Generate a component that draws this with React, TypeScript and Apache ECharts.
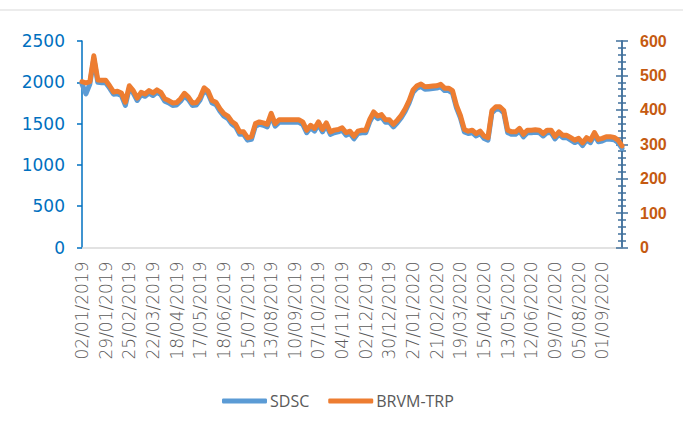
import { useEffect, useRef } from "react";
import * as echarts from "echarts";

// Date labels shown on the category axis (every 19 trading days)
const tickLabels = [
  "02/01/2019", "29/01/2019", "25/02/2019", "22/03/2019", "18/04/2019", "17/05/2019",
  "18/06/2019", "15/07/2019", "13/08/2019", "10/09/2019", "07/10/2019", "04/11/2019",
  "02/12/2019", "30/12/2019", "27/01/2020", "21/02/2020", "19/03/2020", "15/04/2020",
  "13/05/2020", "12/06/2020", "09/07/2020", "05/08/2020", "01/09/2020",
];
// number of sampled points per label interval
const STEP = 6;

// BRVM-TRP (right axis)
const brvmTrp = [
  482, 478, 482, 557, 487, 486, 486, 470, 452, 454, 449, 422, 470, 456, 434, 451, 446, 456, 449, 458,
  451, 432, 427, 420, 421, 432, 448, 437, 420, 421, 437, 464, 454, 427, 422, 403, 389, 382, 366, 358,
  336, 336, 319, 322, 360, 365, 362, 358, 390, 360, 371, 371, 371, 371, 371, 371, 365, 341, 355, 346,
  365, 343, 362, 336, 341, 343, 348, 334, 338, 323, 338, 341, 341, 372, 394, 382, 386, 371, 371, 358,
  370, 384, 403, 427, 458, 470, 475, 467, 468, 469, 470, 474, 463, 463, 456, 413, 384, 343, 338, 341,
  331, 338, 324, 319, 398, 409, 409, 398, 341, 336, 336, 346, 329, 341, 341, 342, 341, 331, 341, 341,
  323, 336, 326, 326, 319, 312, 317, 304, 319, 312, 334, 314, 317, 322, 322, 320, 312, 295,
];

// SDSC (left axis)
const sdsc = [
  1980, 1860, 1980, 2290, 2000, 1995, 1995, 1930, 1855, 1860, 1840, 1720, 1930, 1870, 1780, 1850, 1830, 1870, 1840, 1880,
  1850, 1770, 1750, 1720, 1725, 1770, 1836, 1790, 1720, 1725, 1790, 1905, 1860, 1750, 1730, 1650, 1590, 1560, 1495, 1460,
  1370, 1370, 1300, 1310, 1470, 1490, 1480, 1460, 1595, 1470, 1515, 1515, 1515, 1515, 1515, 1515, 1490, 1390, 1450, 1410,
  1490, 1400, 1480, 1370, 1390, 1400, 1420, 1360, 1380, 1315, 1380, 1390, 1390, 1520, 1610, 1560, 1580, 1515, 1515, 1460,
  1510, 1570, 1650, 1750, 1880, 1930, 1950, 1915, 1920, 1925, 1930, 1945, 1900, 1900, 1870, 1690, 1570, 1400, 1380, 1390,
  1350, 1380, 1320, 1300, 1630, 1675, 1675, 1630, 1390, 1370, 1370, 1410, 1340, 1390, 1390, 1395, 1390, 1350, 1390, 1390,
  1315, 1370, 1330, 1330, 1300, 1270, 1290, 1235, 1300, 1270, 1360, 1280, 1290, 1310, 1310, 1305, 1270, 1200,
];

const categories = brvmTrp.map((_, i) => (i % STEP === 0 ? tickLabels[i / STEP] ?? "" : ""));

const rightAxisColor = "#41719C";

export default function App() {
  const ref = useRef<HTMLDivElement>(null);
  useEffect(() => {
    if (!ref.current) return;
    const chart = echarts.init(ref.current, null, { renderer: "svg" });
    const rightBase = {
      type: "value",
      position: "right",
      min: 0,
      max: 600,
      interval: 100,
      splitLine: { show: false },
      axisLine: { show: true, lineStyle: { color: rightAxisColor, width: 1.5 } },
      minorTick: { show: true, splitNumber: 5, length: 4, lineStyle: { color: rightAxisColor, width: 1.5 } },
      axisTick: { show: true, length: 6, lineStyle: { color: rightAxisColor, width: 1.5 } },
    };
    chart.setOption({
      animation: false,
      backgroundColor: "#ffffff",
      textStyle: { fontFamily: "DejaVu Sans" },
      graphic: [
        {
          type: "line",
          shape: { x1: 0, y1: 10, x2: 683, y2: 10 },
          style: { stroke: "#d9d9d9", lineWidth: 1 },
        },
      ],
      grid: { left: 82, right: 61, top: 41, bottom: 188.5, containLabel: false },
      legend: {
        left: 217,
        top: 388,
        itemWidth: 45,
        itemHeight: 5,
        itemGap: 19,
        icon: "roundRect",
        textStyle: { color: "#595959", fontSize: 16, fontFamily: "Open Sans", padding: [0, 0, 0, -2] },
        data: ["SDSC", "BRVM-TRP"],
      },
      xAxis: {
        type: "category",
        data: categories,
        boundaryGap: false,
        axisLine: { show: true, lineStyle: { color: "#d9d9d9", width: 1.5 } },
        axisTick: { show: false },
        axisLabel: {
          interval: (idx: number) => idx % STEP === 0,
          rotate: 90,
          margin: 14,
          color: "#595959",
          fontSize: 17,
          fontWeight: 300,
          fontFamily: "DejaVu Sans",
        },
        splitLine: { show: false },
      },
      yAxis: [
        {
          type: "value",
          position: "left",
          min: 0,
          max: 2500,
          interval: 500,
          splitLine: { show: false },
          axisLine: { show: true, lineStyle: { color: "#0070C0", width: 1.5 } },
          axisTick: { show: true, length: 5, lineStyle: { color: "#0070C0", width: 1.5 } },
          axisLabel: {
            color: "#0070C0",
            fontSize: 17,
            margin: 17,
            fontFamily: "DejaVu Sans",
            formatter: (v: number) => String(v),
          },
        },
        {
          ...rightBase,
          axisLabel: {
            color: "#C55A11",
            fontSize: 16,
            fontWeight: "bold",
            margin: 18,
            fontFamily: "Liberation Sans",
            formatter: (v: number) => String(v),
          },
        },
        {
          ...rightBase,
          axisTick: { ...rightBase.axisTick, inside: true },
          axisLabel: { show: false },
        },
      ],
      series: [
        {
          name: "SDSC",
          type: "line",
          yAxisIndex: 0,
          data: sdsc,
          showSymbol: false,
          symbol: "none",
          color: "#5B9BD5",
          lineStyle: { color: "#5B9BD5", width: 5, join: "round", cap: "round" },
        },
        {
          name: "BRVM-TRP",
          type: "line",
          yAxisIndex: 1,
          data: brvmTrp,
          showSymbol: false,
          symbol: "none",
          color: "#ED7D31",
          lineStyle: { color: "#ED7D31", width: 5, join: "round", cap: "round" },
        },
      ],
    });
    return () => chart.dispose();
  }, []);
  return (
    <div
      ref={ref}
      style={{ position: "fixed", left: 0, top: 0, width: 683, height: 436, background: "#fff" }}
    />
  );
}
